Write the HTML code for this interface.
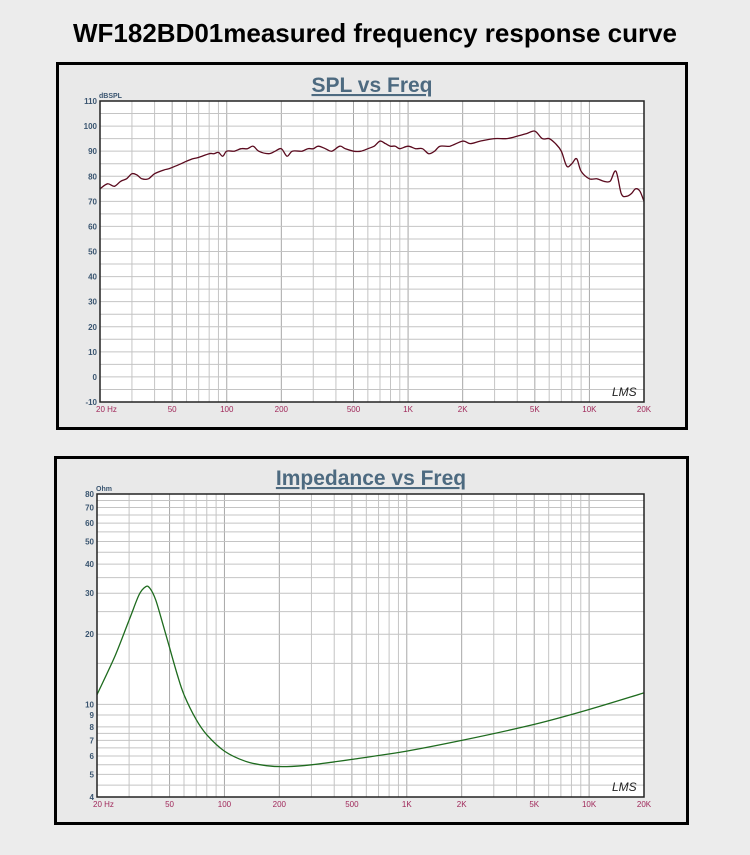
<!DOCTYPE html>
<html><head><meta charset="utf-8"><style>
body{margin:0;background:#ececec;width:750px;height:850px;overflow:hidden;font-family:"Liberation Sans",sans-serif}
</style></head><body>
<svg id="s" width="750" height="850" xmlns="http://www.w3.org/2000/svg" font-family="Liberation Sans, sans-serif">
<text x="375" y="42" text-anchor="middle" font-size="26" font-weight="bold" fill="#000">WF182BD01measured frequency response curve</text>
<rect x="57.5" y="63.5" width="629" height="365" fill="#e9e9e9" stroke="#000" stroke-width="3"/>
<rect x="55.5" y="457.5" width="632" height="366" fill="#e9e9e9" stroke="#000" stroke-width="3"/>
<text x="372" y="92" text-anchor="middle" font-size="21" font-weight="bold" fill="#4d6a80" text-decoration="underline">SPL vs Freq</text>
<text x="371" y="485" text-anchor="middle" font-size="21" font-weight="bold" fill="#4d6a80" text-decoration="underline">Impedance vs Freq</text>
<g id="g"></g>
</svg>
<script>
const NS="http://www.w3.org/2000/svg",g=document.getElementById('g');
function el(t,a,txt){const e=document.createElementNS(NS,t);for(const k in a)e.setAttribute(k,a[k]);if(txt!==undefined)e.textContent=txt;g.appendChild(e);return e;}
function chart(x0,x1,y0,y1,yv,ylab,yfun,unit,data,col){
 el('rect',{x:x0,y:y0,width:x1-x0,height:y1-y0,fill:'#fff'});
 const fx=f=>x0+(Math.log10(f/20)/3)*(x1-x0);
 for(let d=10;d<=10000;d*=10)for(let m=1;m<10;m++){const f=d*m;if(f<=20||f>=20000)continue;
  const x=fx(f);el('line',{x1:x,x2:x,y1:y0,y2:y1,stroke:(m==1||m==2||m==5)?'#a8a8a8':'#c4c4c4','stroke-width':1});}
 yv.forEach(v=>{const y=yfun(v);el('line',{x1:x0,x2:x1,y1:y,y2:y,stroke:'#c4c4c4','stroke-width':1});});
 ylab.forEach(v=>{const y=yfun(v);el('text',{x:x0-3,y:y+3,'text-anchor':'end','font-size':8,'font-weight':'bold',fill:'#3a5570'},String(v));});
 el('text',{x:x0-1,y:y0-3,'font-size':7,'font-weight':'bold',fill:'#3a5570'},unit);
 [[20,'20  Hz'],[50,'50'],[100,'100'],[200,'200'],[500,'500'],[1000,'1K'],[2000,'2K'],[5000,'5K'],[10000,'10K'],[20000,'20K']].forEach(([f,t])=>{
  let x=fx(f);el('text',{x:f==20?x-4:x,y:y1+10,'text-anchor':f==20?'start':'middle','font-size':8,fill:'#a0285a'},t);});
 const p=data.map(([f,v])=>[fx(f),yfun(v)]);
 let d='M'+p[0][0].toFixed(1)+','+p[0][1].toFixed(1);
 for(let i=0;i<p.length-1;i++){const a=p[Math.max(0,i-1)],b=p[i],c=p[i+1],e=p[Math.min(p.length-1,i+2)];
  d+=' C'+(b[0]+(c[0]-a[0])/6).toFixed(1)+','+(b[1]+(c[1]-a[1])/6).toFixed(1)+' '+(c[0]-(e[0]-b[0])/6).toFixed(1)+','+(c[1]-(e[1]-b[1])/6).toFixed(1)+' '+c[0].toFixed(1)+','+c[1].toFixed(1);}
 el('path',{d:d,fill:'none',stroke:col,'stroke-width':1.3});
 el('rect',{x:x0,y:y0,width:x1-x0,height:y1-y0,fill:'none',stroke:'#222','stroke-width':1.5});
 el('text',{x:x1-32,y:y1-6,'font-size':12,'font-style':'italic',fill:'#222'},'LMS');
}
const spl=[[20,75],[22,77],[24,76],[26,78],[28,79],[30,81],[32,80.5],[34,79],[37,79],[40,81],[45,82.5],[48,83],[52,84],[56,85],[60,86],[65,87],[70,87.5],[80,89],[85,89],[90,89.5],[95,88],[100,90],[110,90],[120,91],[130,91],[140,92],[150,90],[170,89],[185,90],[200,91],[215,88],[230,90],[260,90],[280,91],[300,91],[320,92],[350,91],[380,90],[420,92],[450,91],[500,90],[550,90],[600,91],[650,92],[700,94],[750,93],[800,92],[850,92],[900,91],[1000,92],[1100,91],[1200,91],[1300,89],[1400,90],[1500,92],[1700,92],[2000,94],[2200,93],[2500,94],[3000,95],[3500,95],[4000,96],[4500,97],[5000,98],[5500,95],[6000,95],[6500,93],[7000,90],[7500,84],[8000,85],[8500,87],[9000,82],[10000,79],[11000,79],[12000,78],[13000,78],[14000,82],[15000,73],[16000,72],[17000,73],[18000,75],[19000,74],[20000,70]];
const yv1=[];for(let v=-10;v<=110;v+=5)yv1.push(v);const yl1=[];for(let v=-10;v<=110;v+=10)yl1.push(v);
chart(100,644,101,402,yv1,yl1,v=>402-(v+10)/120*301,'dBSPL',spl,'#5a0a1e');
const imp=[[20,11],[25,16],[30,23],[34,29.5],[37,32],[39,31.5],[42,28],[46,22],[50,17.5],[55,13.5],[60,11],[70,8.6],[80,7.4],[100,6.3],[130,5.7],[170,5.45],[220,5.4],[300,5.5],[500,5.8],[1000,6.3],[2000,7.0],[5000,8.2],[10000,9.5],[20000,11.2]];
const yv2=[4,4.5,5,5.5,6,6.5,7,7.5,8,9,10,15,20,25,30,35,40,45,50,55,60,65,70,75,80];
chart(97,644,494,797,yv2,[4,5,6,7,8,9,10,20,30,40,50,60,70,80],v=>797-Math.log10(v/4)/Math.log10(20)*303,'Ohm',imp,'#1e6b1e');
</script>
</body></html>
